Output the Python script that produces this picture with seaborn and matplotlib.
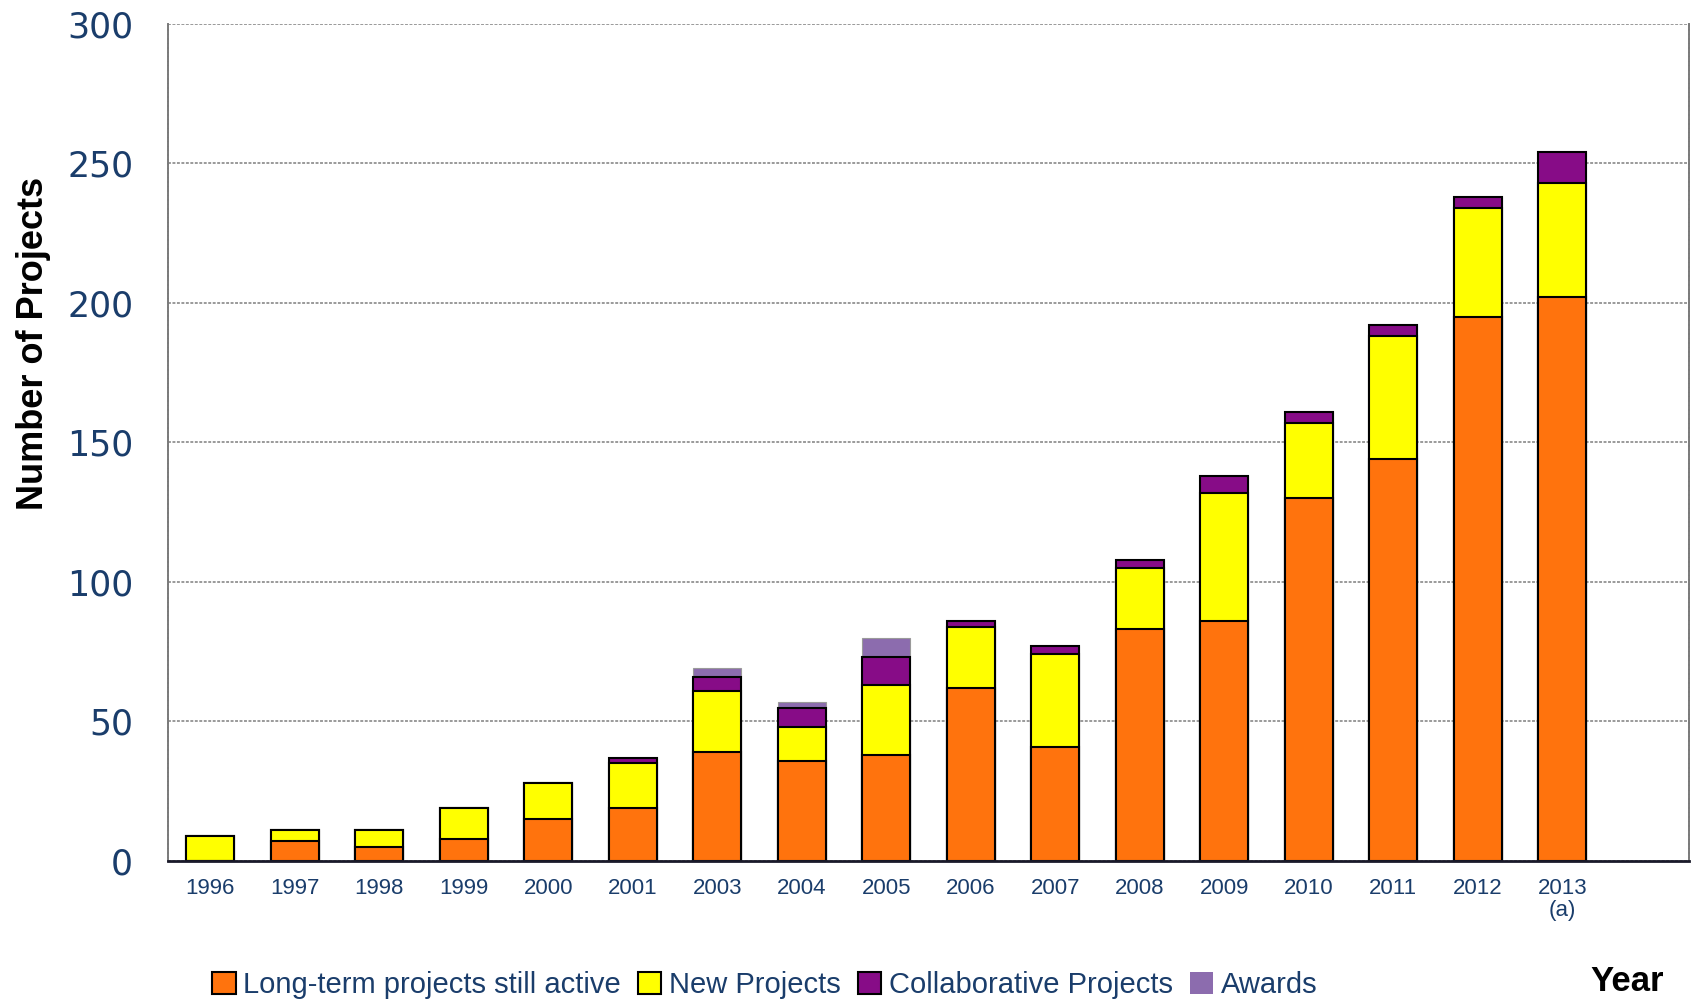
import numpy as np
import pandas as pd
import matplotlib
matplotlib.use("Agg")
import matplotlib.pyplot as plt
import seaborn as sns
from matplotlib.patches import Patch

years = ['1996', '1997', '1998', '1999', '2000', '2001', '2003', '2004', '2005',
         '2006', '2007', '2008', '2009', '2010', '2011', '2012', '2013\n(a)']
long_term = [0, 7, 5, 8, 15, 19, 39, 36, 38, 62, 41, 83, 86, 130, 144, 195, 202]
new_projects = [9, 4, 6, 11, 13, 16, 22, 12, 25, 22, 33, 22, 46, 27, 44, 39, 41]
collaborative = [0, 0, 0, 0, 0, 2, 5, 7, 10, 2, 3, 3, 6, 4, 4, 4, 11]
awards = [0, 0, 0, 0, 0, 0, 3, 2, 7, 0, 0, 0, 0, 0, 0, 0, 0]
series_names = ['Long-term projects still active', 'New Projects',
                'Collaborative Projects', 'Awards']
y_ticks = [0, 50, 100, 150, 200, 250, 300]

colors = ['#FF730D', '#FFFF00', '#870C87', '#8C6CAE']
NAVY = '#1A3D6B'
SANS = ['Liberation Sans', 'DejaVu Sans']

sns.set_theme(style='white')
plt.rcParams['font.family'] = ['DejaVu Sans']

c1 = np.array(long_term)
c2 = c1 + np.array(new_projects)
c3 = c2 + np.array(collaborative)
c4 = c3 + np.array(awards)

df = pd.DataFrame({'year': years, 'c1': c1, 'c2': c2, 'c3': c3, 'c4': c4})

fig = plt.figure(figsize=(17, 10.01), dpi=100)
ax = fig.add_axes([0.0988, 0.1399, 0.8947, 0.8362])

# draw cumulative layers from top to bottom
sns.barplot(data=df, x='year', y='c4', color=colors[3], saturation=1, width=0.57,
            edgecolor='#9A9A9A', linewidth=0.8, ax=ax, order=years)
sns.barplot(data=df, x='year', y='c3', color=colors[2], saturation=1, width=0.57,
            edgecolor='black', linewidth=1.5, ax=ax, order=years)
sns.barplot(data=df, x='year', y='c2', color=colors[1], saturation=1, width=0.57,
            edgecolor='black', linewidth=1.5, ax=ax, order=years)
sns.barplot(data=df, x='year', y='c1', color=colors[0], saturation=1, width=0.57,
            edgecolor='black', linewidth=1.5, ax=ax, order=years)

ax.set_xlim(-0.5, len(years) + 0.5)
ax.set_ylim(0, 300)
ax.set_yticks(y_ticks)
ax.set_yticklabels([str(v) for v in y_ticks], fontsize=25, color=NAVY,
                   family=['DejaVu Sans'])
ax.set_xticks(range(len(years)))
ax.set_xticklabels(years, fontsize=16, color=NAVY, family=SANS,
                   linespacing=1.1)
ax.tick_params(axis='y', length=4, width=1, color='#404040', pad=25, direction='in')
ax.tick_params(axis='x', length=0, pad=12)
ax.set_xlabel('')
ax.set_ylabel('')

ax.set_axisbelow(True)
ax.yaxis.grid(True, color='#9A9A9A', linestyle=(0, (1.5, 0.8)), linewidth=1.4)
ax.xaxis.grid(False)

for side in ['left', 'right', 'top']:
    ax.spines[side].set_visible(True)
    ax.spines[side].set_color('#7A7A7A')
    ax.spines[side].set_linestyle((0, (1.5, 0.8)))
    ax.spines[side].set_linewidth(1.4)
ax.spines['top'].set_visible(False)
ax.spines['bottom'].set_color('#1a1a2a')
ax.spines['bottom'].set_linewidth(2)

fig.text(0.0195, 0.657, 'Number of Projects', rotation=90, ha='center', va='center',
         fontsize=26, fontweight='bold', color='black', family=SANS)
fig.text(0.957, 0.019, 'Year', ha='center', va='center', fontsize=25,
         fontweight='bold', color='black', family=SANS)

handles = [Patch(facecolor=colors[0], edgecolor='black', linewidth=1.5),
           Patch(facecolor=colors[1], edgecolor='black', linewidth=1.5),
           Patch(facecolor=colors[2], edgecolor='black', linewidth=1.5),
           Patch(facecolor=colors[3], edgecolor=colors[3], linewidth=0)]
leg = fig.legend(handles, series_names, loc='center left', bbox_to_anchor=(0.118, 0.016),
                 ncol=4, frameon=False, handlelength=0.8, handleheight=0.8,
                 handletextpad=0.25, columnspacing=0.6, borderaxespad=0,
                 prop={'family': SANS, 'size': 21})
for t in leg.get_texts():
    t.set_color(NAVY)

fig.savefig('out.png', dpi=100, facecolor='white')
